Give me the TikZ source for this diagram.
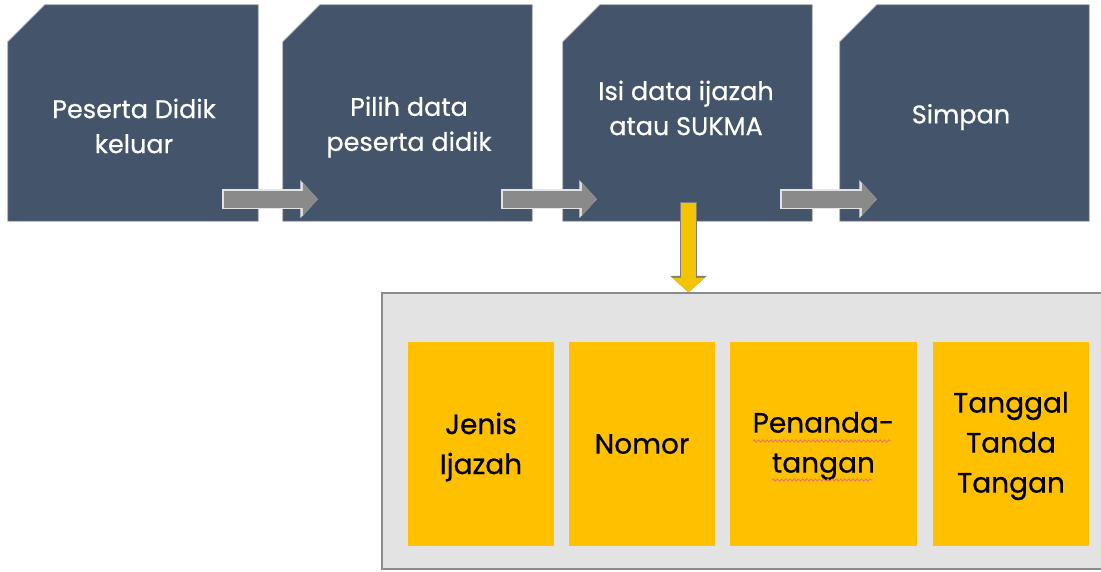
\documentclass[tikz,border=0pt]{standalone}
\usepackage{fontspec}
\setmainfont{Poppins}[FakeBold=0.6]
\usetikzlibrary{arrows.meta,calc,decorations.pathmorphing}

\definecolor{slate}{HTML}{44546A}
\definecolor{slaterim}{HTML}{9AA3AD}
\definecolor{gfill}{HTML}{8A8A8A}
\definecolor{grim}{HTML}{E4E4E4}
\definecolor{panel}{HTML}{E3E3E3}
\definecolor{panelrim}{HTML}{8C8C8C}
\definecolor{amber}{HTML}{FFC000}
\definecolor{yfill}{HTML}{F5C400}
\definecolor{yrim}{HTML}{7F7F7F}
\definecolor{squig}{HTML}{E8766C}

\tikzset{
  frame/.style={inner sep=0pt, minimum width=#1, minimum height=216pt},
  stepfill/.style={fill=slate, draw=slaterim, line width=0.8pt},
  steptext/.style={text=white, align=center, font=\fontsize{25.5}{35}\selectfont},
  panelbox/.style={fill=panel, draw=panelrim, line width=1.5pt},
  field/.style={fill=amber, inner sep=0pt, minimum width=#1, minimum height=204pt},
  fieldtext/.style={text=black, align=center, font=\fontsize{28}{40}\selectfont},
  grayarrow/.style={draw=gfill, line width=17pt, shorten <=1.5pt,
    -{Triangle[length=15pt,width=33pt]},
    preaction={draw=grim, line width=20pt, shorten <=0pt,
      -{Triangle[length=17.5pt,width=37pt]}}},
  yellowarrow/.style={draw=yfill, line width=15pt, shorten <=1.2pt,
    -{Triangle[length=14.5pt,width=32pt]},
    preaction={draw=yrim, line width=17.5pt, shorten <=0pt,
      -{Triangle[length=16.5pt,width=36pt]}}},
  squiggle/.style={draw=squig, line width=0.9pt, decorate,
    decoration={snake, amplitude=1.1pt, segment length=4.2pt}}
}

\begin{document}
\begin{tikzpicture}[x=1pt, y=-1pt]
\useasboundingbox (0,0) rectangle (1101,571);

% process step frames
\node[frame=250pt] (s1) at (133,113) {};
\node[frame=249pt] (s2) at (407.5,113) {};
\node[frame=249pt] (s3) at (687.5,113) {};
\node[frame=249pt] (s4) at (964.5,113) {};

% chamfered step shapes
\foreach \n in {s1,s2,s3,s4}
  \filldraw[stepfill] ($(\n.north west)+(37,0)$) -- (\n.north east)
    -- (\n.south east) -- (\n.south west) -- ($(\n.north west)+(0,37)$) -- cycle;

% step labels
\node[steptext] (t1) at (134,126) {Peserta Didik\\keluar};
\node[steptext] (t2) at (409,127) {Pilih data\\peserta didik};
\node[steptext] (t3) at (686,108) {Isi data ijazah\\atau SUKMA};
\node[steptext] (t4) at (961,117) {Simpan};

% arrows between steps
\draw[grayarrow] ($(s1.south east)+(-36,-22)$) -- ($(s2.south west)+(35,-22)$);
\draw[grayarrow] ($(s2.south east)+(-31,-22)$) -- ($(s3.south west)+(34,-22)$);
\draw[grayarrow] ($(s3.south east)+(-32,-22)$) -- ($(s4.south west)+(37,-22)$);

% detail panel
\node[panelbox, inner sep=0pt, minimum width=722pt, minimum height=276pt] (cont) at (743,431) {};

% arrow into the panel
\coordinate (ytop) at ($(s3.south)+(1,-19)$);
\draw[yellowarrow] (ytop) -- (ytop |- cont.north);

% fields
\node[field=146pt] (f1) at (481,444) {};
\node[field=146pt] (f2) at (642,444) {};
\node[field=187pt] (f3) at (823.5,444) {};
\node[field=156pt] (f4) at (1011,444) {};

\node[fieldtext] (l1) at (f1.center) [yshift=-3pt] {Jenis\\Ijazah};
\node[fieldtext] (l2) at (f2.center) {Nomor};
\node[fieldtext] (l3) at (f3.center) [yshift=-2pt] {Penanda-\\tangan};
\node[fieldtext] (l4) at (f4.center) [yshift=-2pt] {Tanggal\\Tanda\\Tangan};

% spelling marks under the hyphenated word
\draw[squiggle] (753,441) -- (891,441);
\draw[squiggle] (772,480) -- (873,480);
\end{tikzpicture}
\end{document}
